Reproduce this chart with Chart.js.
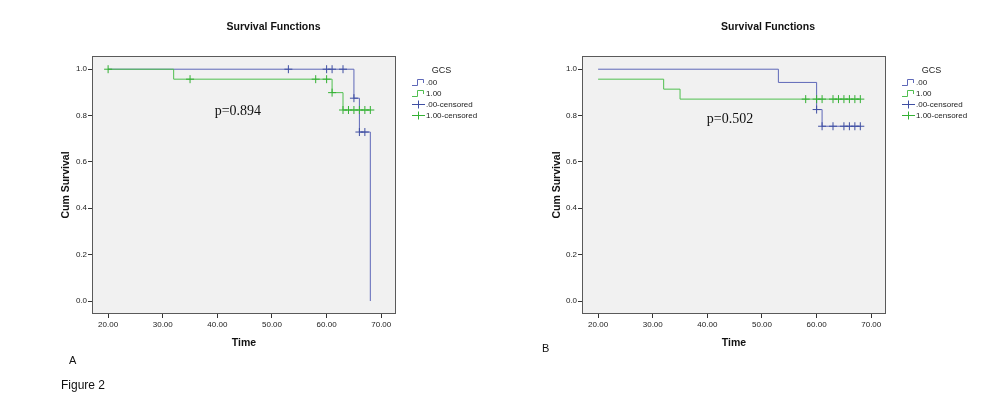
<!DOCTYPE html>
<html>
<head>
<meta charset="utf-8">
<script src="https://cdn.jsdelivr.net/npm/chart.js@4.4.1/dist/chart.umd.min.js"></script>
<style>
html,body{margin:0;padding:0;background:#fff;width:1004px;height:412px;overflow:hidden;font-family:"Liberation Sans",Arial,sans-serif;}
#wrapA{position:absolute;left:0;top:0;width:490px;height:412px;}
#wrapB{position:absolute;left:490px;top:0;width:514px;height:412px;}
.lbl{position:absolute;font-size:11px;line-height:11px;color:#111;white-space:nowrap;}
</style>
</head>
<body>
<div id="wrapA"><canvas id="cA" width="490" height="412"></canvas></div>
<div id="wrapB"><canvas id="cB" width="514" height="412"></canvas></div>
<div class="lbl" style="left:69px;top:355px;">A</div>
<div class="lbl" style="left:542px;top:343px;">B</div>
<div class="lbl" style="left:61px;top:379px;font-size:12px;line-height:12px;">Figure 2</div>
<script>
// ---------- data ----------
const chartTitle = 'Survival Functions';
const xAxisTitle = 'Time';
const yAxisTitle = 'Cum Survival';
const legendTitle = 'GCS';
const legendLabels = ['.00', '1.00', '.00-censored', '1.00-censored'];
const xTickValues = [20, 30, 40, 50, 60, 70];
const xTickLabels = ['20.00', '30.00', '40.00', '50.00', '60.00', '70.00'];
const yTickValues = [0, 0.2, 0.4, 0.6, 0.8, 1.0];
const yTickLabels = ['0.0', '0.2', '0.4', '0.6', '0.8', '1.0'];

// Panel A  (GCS .00 = blue, 1.00 = green)
const a0Time = [20, 65, 66, 68];
const a0Surv = [1.0, 0.875, 0.729, 0.0];
const a0CensTime = [53, 60, 61, 63, 65, 66, 67];
const a0CensSurv = [1.0, 1.0, 1.0, 1.0, 0.875, 0.729, 0.729];
const a1Time = [20, 32, 61, 63, 68];
const a1Surv = [1.0, 0.957, 0.899, 0.824, 0.824];
const a1CensTime = [20, 35, 58, 60, 61, 63, 64, 65, 66, 67, 68];
const a1CensSurv = [1.0, 0.957, 0.957, 0.957, 0.899, 0.824, 0.824, 0.824, 0.824, 0.824, 0.824];
const pTextA = 'p=0.894';

// Panel B
const b0Time = [20, 53, 60, 61, 68];
const b0Surv = [1.0, 0.943, 0.826, 0.754, 0.754];
const b0CensTime = [60, 61, 63, 65, 66, 67, 68];
const b0CensSurv = [0.826, 0.754, 0.754, 0.754, 0.754, 0.754, 0.754];
const b1Time = [20, 32, 35, 68];
const b1Surv = [0.957, 0.914, 0.871, 0.871];
const b1CensTime = [58, 60, 61, 63, 64, 65, 66, 67, 68];
const b1CensSurv = [0.871, 0.871, 0.871, 0.871, 0.871, 0.871, 0.871, 0.871, 0.871];
const pTextB = 'p=0.502';

// ---------- style ----------
const FONT = '"Liberation Sans", Arial, sans-serif';
const BLUE = '#5e68b8';
const BLUE_MARK = '#3e4ea2';
const GREEN = '#4fbf4f';
const GREEN_MARK = '#33b033';
Chart.defaults.font.family = FONT;

const pts = (t, s) => t.map((v, i) => ({x: v, y: s[i]}));

function stepIcon(color) {
  const c = document.createElement('canvas'); c.width = 29; c.height = 9;
  const g = c.getContext('2d'); g.strokeStyle = color; g.lineWidth = 1;
  g.beginPath(); g.moveTo(16, 7.5); g.lineTo(21.5, 7.5); g.lineTo(21.5, 1.5); g.lineTo(27.5, 1.5); g.lineTo(27.5, 5); g.stroke();
  return c;
}
function crossIcon(color) {
  const c = document.createElement('canvas'); c.width = 29; c.height = 9;
  const g = c.getContext('2d'); g.strokeStyle = color; g.lineWidth = 1;
  g.beginPath(); g.moveTo(16, 4.5); g.lineTo(29, 4.5); g.moveTo(22.5, 0.5); g.lineTo(22.5, 8.5); g.stroke();
  return c;
}
const legendIcons = [stepIcon(BLUE), stepIcon(GREEN), crossIcon(BLUE_MARK), crossIcon(GREEN_MARK)];
const legendColors = [BLUE, GREEN, BLUE_MARK, GREEN_MARK];

const framePlugin = {
  id: 'frame',
  beforeDraw(chart) {
    const a = chart.chartArea, ctx = chart.ctx;
    ctx.save(); ctx.fillStyle = '#f1f1f1';
    ctx.fillRect(a.left, a.top, a.right - a.left, a.bottom - a.top); ctx.restore();
  },
  afterDraw(chart) {
    const a = chart.chartArea, ctx = chart.ctx;
    ctx.save(); ctx.strokeStyle = '#5a5a5a'; ctx.lineWidth = 1;
    ctx.strokeRect(a.left + 0.5, a.top + 0.5, a.right - a.left - 1, a.bottom - a.top - 1); ctx.restore();
  }
};
const pValuePlugin = {
  id: 'pValue',
  afterDatasetsDraw(chart, args, o) {
    if (!o || !o.text) return;
    const ctx = chart.ctx, xs = chart.scales.x, ys = chart.scales.y;
    ctx.save(); ctx.font = o.font; ctx.fillStyle = o.color; ctx.textAlign = 'left'; ctx.textBaseline = 'middle';
    ctx.fillText(o.text, xs.getPixelForValue(o.x), ys.getPixelForValue(o.y));
    ctx.restore();
  }
};

function makePanel(id, d, place) {
  const st = {yWidth: 40};
  const cfg = {
    type: 'scatter',
    data: {
      datasets: [
        {label: legendLabels[3], data: pts(d.c1t, d.c1s), showLine: false, pointStyle: 'cross', pointRadius: 4, borderColor: GREEN_MARK, borderWidth: 1},
        {label: legendLabels[2], data: pts(d.c0t, d.c0s), showLine: false, pointStyle: 'cross', pointRadius: 4, borderColor: BLUE_MARK, borderWidth: 1},
        {label: legendLabels[1], data: pts(d.t1, d.s1), showLine: true, stepped: 'before', pointRadius: 0, borderColor: GREEN, borderWidth: 1, fill: false},
        {label: legendLabels[0], data: pts(d.t0, d.s0), showLine: true, stepped: 'before', pointRadius: 0, borderColor: BLUE, borderWidth: 1, fill: false}
      ]
    },
    options: {
      responsive: false, animation: false, events: [],
      layout: {padding: {left: 50, right: 10, top: 0, bottom: 58}},
      scales: {
        x: {
          type: 'linear', min: 17.05, max: 72.7,
          afterBuildTicks: s => { s.ticks = xTickValues.map(v => ({value: v})); },
          ticks: {callback: (v, i) => xTickLabels[i], font: {size: 8}, color: '#222', padding: 2, maxRotation: 0, autoSkip: false},
          grid: {drawOnChartArea: false, drawTicks: true, tickLength: 4, color: '#333'},
          border: {display: false},
          title: {display: true, text: xAxisTitle, color: '#111', font: {size: 10.5, weight: 'bold'}, padding: {top: 0, bottom: 4.7}},
          afterFit: s => { s.height = 40; }
        },
        y: {
          type: 'linear', min: -0.056, max: 1.057,
          afterBuildTicks: s => { s.ticks = yTickValues.map(v => ({value: v})); },
          ticks: {callback: (v, i) => yTickLabels[i], font: {size: 8}, color: '#222', padding: 1},
          grid: {drawOnChartArea: false, drawTicks: true, tickLength: 4, color: '#333'},
          border: {display: false},
          title: {display: true, text: yAxisTitle, color: '#111', font: {size: 10.5, weight: 'bold'}, padding: {top: 4, bottom: 0}},
          afterFit: s => { s.width = st.yWidth; }
        }
      },
      plugins: {
        tooltip: {enabled: false},
        title: {display: true, text: chartTitle, color: '#111', font: {size: 10.5, weight: 'bold'}, padding: {top: 20.7, bottom: 22.7}},
        legend: {
          display: true, position: 'right', align: 'start', onClick: null,
          title: {display: true, text: legendTitle, color: '#222', font: {size: 9, lineHeight: 1}, padding: {top: 66.5, bottom: 0}},
          labels: {
            usePointStyle: true, pointStyleWidth: 23, padding: 3, color: '#222', font: {size: 8},
            generateLabels: () => legendLabels.map((t, i) => ({
              text: t, pointStyle: legendIcons[i], fillStyle: legendColors[i], strokeStyle: legendColors[i],
              lineWidth: 0, hidden: false, datasetIndex: i, fontColor: '#222'
            }))
          }
        },
        pValue: {text: d.p, x: d.px, y: d.py, font: '14px "Liberation Serif", "Times New Roman", serif', color: '#111'}
      }
    },
    plugins: [framePlugin, pValuePlugin]
  };
  const chart = new Chart(document.getElementById(id), cfg);
  // second pass: place plot area and title like the reference
  const Lw = chart.legend.width;
  const W = chart.width;
  const L = Math.round(2 * place.titleCenter - place.right - Lw);
  st.yWidth = place.left - L;
  chart.options.layout.padding.left = L;
  chart.options.layout.padding.right = W - place.right - Lw;
  chart.options.scales.y.title.padding = {top: place.yTitleX - L - 6.3, bottom: 0};
  chart.update('none');
  return chart;
}

makePanel('cA', {t0: a0Time, s0: a0Surv, c0t: a0CensTime, c0s: a0CensSurv,
                 t1: a1Time, s1: a1Surv, c1t: a1CensTime, c1s: a1CensSurv,
                 p: pTextA, px: 39.5, py: 0.82},
          {left: 92, right: 396, titleCenter: 273.5, yTitleX: 66});
makePanel('cB', {t0: b0Time, s0: b0Surv, c0t: b0CensTime, c0s: b0CensSurv,
                 t1: b1Time, s1: b1Surv, c1t: b1CensTime, c1s: b1CensSurv,
                 p: pTextB, px: 39.9, py: 0.783},
          {left: 92, right: 396, titleCenter: 278, yTitleX: 67});
</script>
</body>
</html>
